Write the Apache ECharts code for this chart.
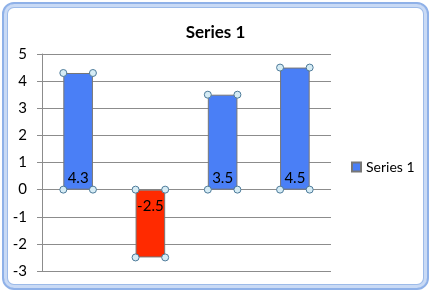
<!DOCTYPE html>
<html>
<head>
<meta charset="utf-8">
<script src="https://cdn.jsdelivr.net/npm/echarts@6/dist/echarts.min.js"></script>
<style>
  html, body { margin: 0; padding: 0; background: #fff; }
  #frame {
    position: absolute; left: 2px; top: 2px; width: 423px; height: 284px;
    border: 2px solid #8fb1e8; border-radius: 12px;
    box-shadow: inset 0 0 0 3px #c9daf5, inset 0 0 0 4px #9dbbe9;
  }
  #chart { position: absolute; left: 0; top: 0; width: 431px; height: 294px; }
</style>
</head>
<body>
<div id="frame"></div>
<div id="chart"></div>
<script>
// 数据
const categories = ['A', 'B', 'C', 'D']
const values = [4.3, -2.5, 3.5, 4.5]
const yTicks = { min: -3, max: 5, interval: 1 }

const blue = '#4a7ff6'
const red = '#ff2a00'
const barRatio = 0.41

let myChart = echarts.init(document.getElementById('chart'))

let option = {
  animation: false,
  textStyle: { fontFamily: 'Lato' },
  title: {
    text: 'Series 1',
    left: 'center',
    top: 19,
    textStyle: { fontSize: 17, fontWeight: 'bold', color: '#000', fontFamily: 'Lato' }
  },
  legend: {
    data: ['Series 1'],
    orient: 'vertical',
    left: 346,
    top: 155,
    itemWidth: 9,
    itemHeight: 9,
    itemGap: 4,
    icon: 'rect',
    textStyle: { fontSize: 14, color: '#000', fontFamily: 'Lato' }
  },
  grid: { left: 42, right: 100, top: 54, bottom: 23 },
  xAxis: {
    type: 'category',
    data: categories,
    axisLine: { show: false },
    axisTick: { show: false },
    axisLabel: { show: false }
  },
  yAxis: {
    type: 'value',
    min: yTicks.min,
    max: yTicks.max,
    interval: yTicks.interval,
    axisLine: { show: true, lineStyle: { color: '#8c8c8c', width: 1 } },
    axisTick: { show: true, length: 5, lineStyle: { color: '#8c8c8c' } },
    axisLabel: { margin: 15, fontSize: 15, color: '#000', fontFamily: 'Lato' },
    splitLine: { lineStyle: { color: '#8c8c8c', width: 1 } }
  },
  series: [
    {
      name: 'Series 1',
      type: 'bar',
      barWidth: (barRatio * 100) + '%',
      itemStyle: { color: blue, borderColor: '#777', borderWidth: 1 },
      data: values.map(v => ({
        value: v,
        itemStyle: { color: v < 0 ? red : blue },
        label: {
          show: true,
          position: v < 0 ? 'insideTop' : 'insideBottom',
          distance: v < 0 ? 9 : 4,
          fontSize: 15,
          color: '#000',
          fontFamily: 'Lato',
          formatter: String(v)
        }
      }))
    },
    {
      // 选中的控制点
      type: 'custom',
      silent: true,
      z: 5,
      data: values.map((v, i) => [i, v]),
      renderItem: function (params, api) {
        const top = api.coord([api.value(0), api.value(1)])
        const base = api.coord([api.value(0), 0])
        const w = api.size([1, 0])[0] * barRatio
        const pts = [
          [top[0] - w / 2, top[1]], [top[0] + w / 2, top[1]],
          [base[0] - w / 2, base[1]], [base[0] + w / 2, base[1]]
        ]
        return {
          type: 'group',
          children: pts.map(p => ({
            type: 'circle',
            shape: { cx: p[0], cy: p[1], r: 3.5 },
            style: { fill: '#d6ecf5', stroke: '#4d7a99', lineWidth: 1 }
          }))
        }
      }
    }
  ]
}

option && myChart.setOption(option)
</script>
</body>
</html>
